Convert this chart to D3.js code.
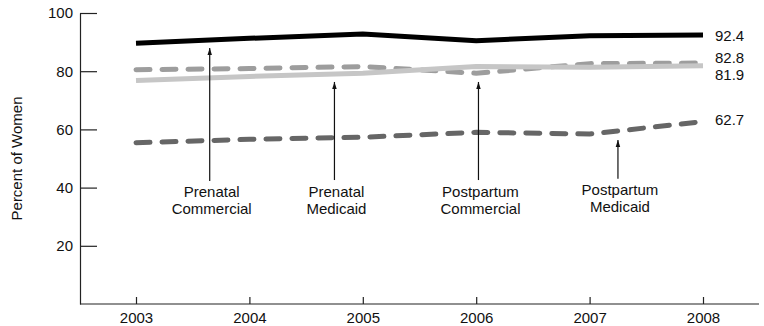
<!DOCTYPE html>
<html>
<head>
<meta charset="utf-8">
<script src="https://cdn.jsdelivr.net/npm/d3@7"></script>
<style>
  body { margin: 0; background: #fff; }
  text { font-family: 'Liberation Sans', Arial, sans-serif; }
</style>
</head>
<body>
<div id="chart"></div>
<script>
const years = [2003, 2004, 2005, 2006, 2007, 2008];
const prenatalCommercial = [89.6, 91.3, 92.8, 90.5, 92.2, 92.4];
const prenatalMedicaid = [76.8, 78.2, 79.3, 81.6, 81.4, 81.9];
const postpartumCommercial = [80.5, 80.9, 81.6, 79.3, 82.6, 82.8];
const postpartumMedicaid = [55.4, 56.6, 57.3, 59.0, 58.4, 62.7];
const yTicks = [20, 40, 60, 80, 100];
const endLabels = ['92.4', '81.9', '82.8', '62.7'];

// annotation labels: where the arrow sits (year), tip and foot (percent)
const notes = [
  { lines: ['Prenatal', 'Commercial'], year: 2003.65, tip: 88.0, foot: 42.3 },
  { lines: ['Prenatal', 'Medicaid'], year: 2004.75, tip: 76.3, foot: 42.6 },
  { lines: ['Postpartum', 'Commercial'], year: 2006.02, tip: 76.3, foot: 42.6 },
  { lines: ['Postpartum', 'Medicaid'], year: 2007.25, tip: 56.4, foot: 43.0 }
];

const width = 764, height = 326;
const fs = 15;

const svg = d3.select('#chart').append('svg')
  .attr('width', width)
  .attr('height', height);

const x = d3.scaleLinear().domain([2003, 2008]).range([136, 703]);
const y = d3.scaleLinear().domain([0, 100]).range([304, 13]);

// series styling (order = drawing order)
const series = [
  { values: postpartumCommercial, color: '#9d9d9d', dash: '14,12', label: endLabels[2], dy: -5 },
  { values: prenatalMedicaid, color: '#c6c6c6', dash: null, label: endLabels[1], dy: 9 },
  { values: postpartumMedicaid, color: '#666666', dash: '14,12', label: endLabels[3], dy: -2 },
  { values: prenatalCommercial, color: '#000000', dash: null, label: endLabels[0], dy: 1 }
];

// axes
const yAxis = svg.append('g')
  .attr('transform', 'translate(80,0)')
  .call(d3.axisLeft(y).tickValues(yTicks).tickSizeInner(-17).tickSizeOuter(0).tickPadding(7));
yAxis.select('.domain').attr('stroke', '#222').attr('stroke-width', 1.2);
yAxis.selectAll('.tick line').attr('stroke', '#222').attr('stroke-width', 1.2);
yAxis.selectAll('.tick text')
  .attr('font-size', fs)
  .attr('font-family', 'Liberation Sans, Arial, sans-serif')
  .attr('fill', '#111');

const xAxis = svg.append('g')
  .attr('transform', `translate(0,${y(0)})`)
  .call(d3.axisBottom(x).tickValues(years).tickFormat(d3.format('d')).tickSizeInner(-7).tickSizeOuter(0).tickPadding(8));
xAxis.select('.domain').remove();
xAxis.selectAll('.tick line').attr('stroke', '#222').attr('stroke-width', 1.2);
xAxis.selectAll('.tick text')
  .attr('font-size', fs)
  .attr('font-family', 'Liberation Sans, Arial, sans-serif')
  .attr('fill', '#111');
xAxis.append('line')
  .attr('x1', 80)
  .attr('x2', 759)
  .attr('stroke', '#222')
  .attr('stroke-width', 1.2);

svg.append('text')
  .attr('transform', `translate(22,${(y(0) + y(100)) / 2}) rotate(-90)`)
  .attr('text-anchor', 'middle')
  .attr('font-size', fs)
  .attr('fill', '#111')
  .text('Percent of Women');

// lines
const line = d3.line()
  .x((d, i) => x(years[i]))
  .y((d) => y(d));

series.forEach((s) => {
  svg.append('path')
    .datum(s.values)
    .attr('fill', 'none')
    .attr('stroke', s.color)
    .attr('stroke-width', 5)
    .attr('stroke-linejoin', 'miter')
    .attr('stroke-linecap', s.dash ? 'round' : 'butt')
    .attr('stroke-dasharray', s.dash)
    .attr('d', line);

  svg.append('text')
    .attr('x', x(2008) + 12)
    .attr('y', y(s.values[s.values.length - 1]) + s.dy)
    .attr('dy', '0.35em')
    .attr('font-size', fs)
    .attr('fill', '#111')
    .text(s.label);
});

// annotations
svg.append('defs').append('marker')
  .attr('id', 'arrow')
  .attr('viewBox', '0 0 10 10')
  .attr('refX', 10)
  .attr('refY', 5)
  .attr('markerWidth', 7)
  .attr('markerHeight', 7)
  .attr('markerUnits', 'userSpaceOnUse')
  .attr('orient', 'auto')
  .append('path')
  .attr('d', 'M0,1.8L10,5L0,8.2Z')
  .attr('fill', '#111');

notes.forEach((n) => {
  svg.append('line')
    .attr('x1', x(n.year))
    .attr('x2', x(n.year))
    .attr('y1', y(n.foot))
    .attr('y2', y(n.tip))
    .attr('stroke', '#111')
    .attr('stroke-width', 1.2)
    .attr('marker-end', 'url(#arrow)');

  const t = svg.append('text')
    .attr('text-anchor', 'middle')
    .attr('font-size', fs)
    .attr('fill', '#111');
  n.lines.forEach((l, i) => {
    t.append('tspan')
      .attr('x', x(n.year) + 2)
      .attr('y', y(n.foot) + 16.5 + i * 17)
      .text(l);
  });
});
</script>
</body>
</html>
